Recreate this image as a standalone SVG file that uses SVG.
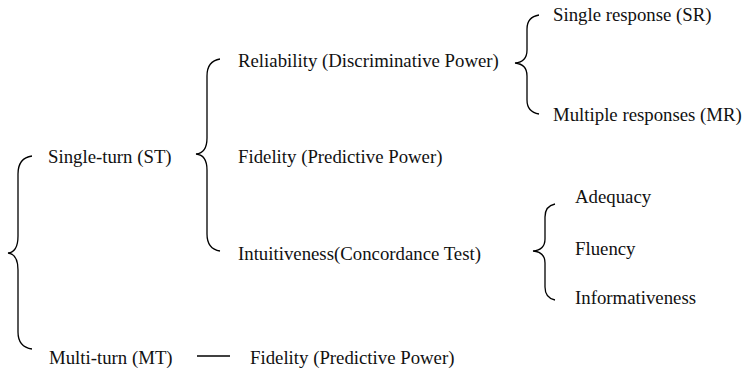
<svg xmlns="http://www.w3.org/2000/svg" width="743" height="370" viewBox="0 0 743 370">
<style>
text{font-family:"Liberation Serif","Times New Roman",serif;font-size:18.8px;fill:#111}
.br{fill:none;stroke:#000;stroke-width:1.3}
</style>
<rect width="743" height="370" fill="#fff"/>
<g id="connectors">
<path class="br" d="M32 156 Q18 158 18 174 L18 236 Q18 252 8 253 Q18 254 18 270 L18 332 Q18 347 32 349"/>
<path class="br" d="M220 59 Q207 61 207 76 L207 138 Q207 153 196 154 Q207 155 207 170 L207 234 Q207 249 220 251"/>
<path class="br" d="M539 15 Q527 17 527 29 L527 50 Q527 62 515 63 Q527 64 527 76 L527 100 Q527 112 539 114"/>
<path class="br" d="M555 204 Q545 206 545 217 L545 239 Q545 250 533 251 Q545 252 545 263 L545 287 Q545 298 555 300"/>
<line x1="197" y1="356" x2="230" y2="356" stroke="#000" stroke-width="1.3"/>
</g>
<g id="st"><text x="48" y="163">Single-turn (ST)</text></g>
<g id="mt"><text x="49" y="364">Multi-turn (MT)</text></g>
<g id="reliability"><text x="238" y="67">Reliability (Discriminative Power)</text></g>
<g id="fidelity-st"><text x="238" y="163">Fidelity (Predictive Power)</text></g>
<g id="intuitiveness"><text x="238" y="260">Intuitiveness(Concordance Test)</text></g>
<g id="fidelity-mt"><text x="250" y="364">Fidelity (Predictive Power)</text></g>
<g id="sr"><text x="553" y="21">Single response (SR)</text></g>
<g id="mr"><text x="553" y="121">Multiple responses (MR)</text></g>
<g id="adequacy"><text x="575" y="203">Adequacy</text></g>
<g id="fluency"><text x="575" y="255">Fluency</text></g>
<g id="informativeness"><text x="575" y="304">Informativeness</text></g>
</svg>
